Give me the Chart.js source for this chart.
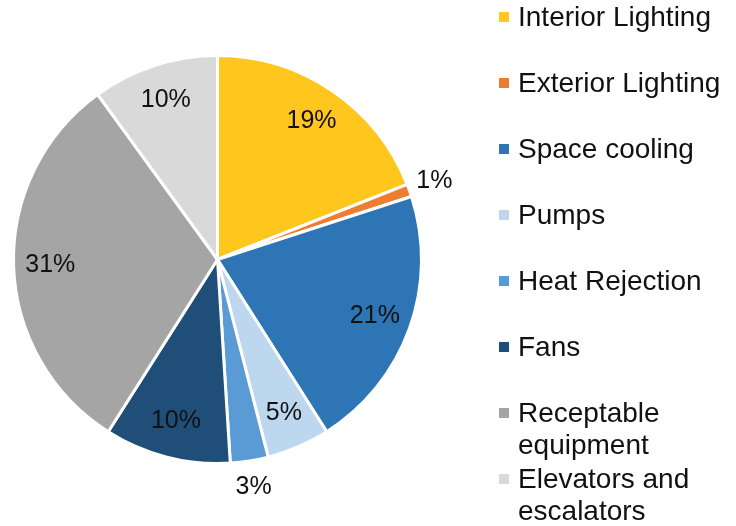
<!DOCTYPE html>
<html>
<head>
<meta charset="utf-8">
<script src="https://cdn.jsdelivr.net/npm/chart.js@4"></script>
<style>
  html, body { margin: 0; padding: 0; background: #fff; }
  #wrap { width: 736px; height: 526px; position: relative; }
</style>
</head>
<body>
<div id="wrap"><canvas id="pie"></canvas></div>
<script>
const categories = [
    'Interior Lighting',
    'Exterior Lighting',
    'Space cooling',
    'Pumps',
    'Heat Rejection',
    'Fans',
    ['Receptable', 'equipment'],
    ['Elevators and', 'escalators']
];
const shares = [19, 1, 21, 5, 3, 10, 31, 10];
const sliceColors = ['#FFC61E', '#ED7D31', '#2E75B6', '#BDD7EE', '#5B9BD5', '#1F4E79', '#A5A5A5', '#D9D9D9'];

const FONT = '"Liberation Sans", Arial, sans-serif';

// percent labels, inside the slice or just outside for the thin ones
const sliceLabels = {
    id: 'sliceLabels',
    afterDatasetsDraw(chart) {
        const ctx = chart.ctx;
        const meta = chart.getDatasetMeta(0);
        ctx.save();
        ctx.font = '25px ' + FONT;
        ctx.fillStyle = '#111';
        ctx.textAlign = 'center';
        ctx.textBaseline = 'middle';
        meta.data.forEach((arc, i) => {
            const p = arc.getProps(['x', 'y', 'startAngle', 'endAngle', 'outerRadius'], true);
            const mid = (p.startAngle + p.endAngle) / 2;
            const k = shares[i] < 4 ? 1.13 : 0.82;
            const x = p.x + Math.cos(mid) * p.outerRadius * k;
            const y = p.y + Math.sin(mid) * p.outerRadius * k;
            ctx.fillText(shares[i] + '%', x, y);
        });
        ctx.restore();
    }
};

// legend on the right with a fixed pitch, like the original
const sideLegend = {
    id: 'sideLegend',
    afterDraw(chart) {
        const ctx = chart.ctx;
        const meta = chart.getDatasetMeta(0);
        ctx.save();
        ctx.font = '28px ' + FONT;
        ctx.textBaseline = 'middle';
        ctx.textAlign = 'left';
        chart.data.labels.forEach((label, i) => {
            const y = 18 + i * 66;
            ctx.fillStyle = meta.data[i].options.backgroundColor;
            ctx.fillRect(499, y - 6, 10, 10);
            ctx.fillStyle = '#111';
            const lines = Array.isArray(label) ? label : [label];
            lines.forEach((line, j) => ctx.fillText(line, 518, y + j * 32));
        });
        ctx.restore();
    }
};

new Chart(document.getElementById('pie'), {
    type: 'pie',
    data: {
        labels: categories,
        datasets: [{
            data: shares,
            backgroundColor: sliceColors,
            borderColor: '#ffffff',
            borderWidth: 3
        }]
    },
    options: {
        responsive: true,
        maintainAspectRatio: false,
        animation: false,
        layout: { padding: { left: 12, right: 313, top: 54, bottom: 61 } },
        plugins: {
            legend: { display: false },
            tooltip: { enabled: false }
        }
    },
    plugins: [sliceLabels, sideLegend]
});
</script>
</body>
</html>
